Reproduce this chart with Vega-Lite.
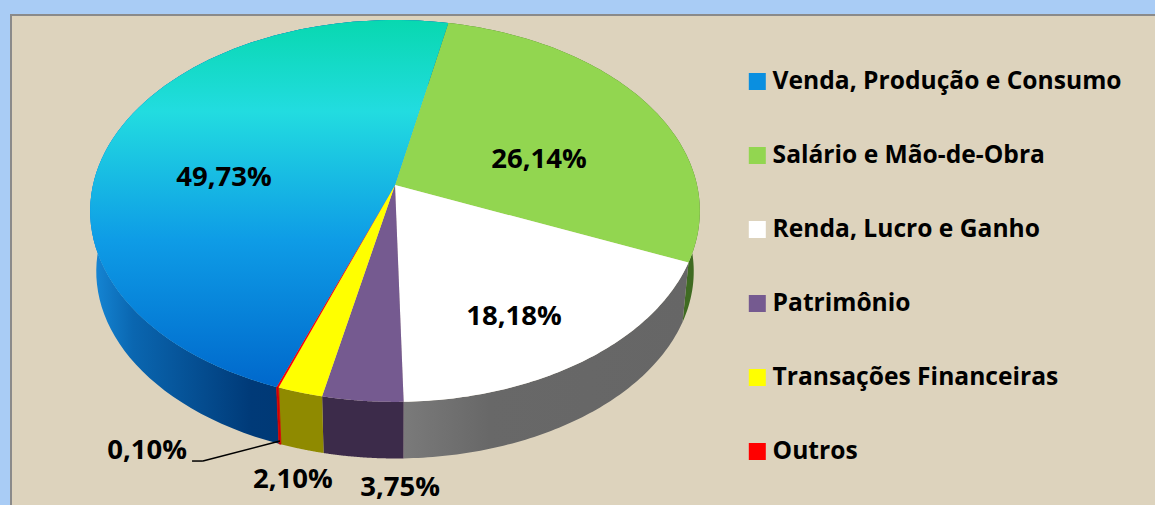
{
"$schema":"https://vega.github.io/schema/vega-lite/v6.json",
"autosize":"none","width":1150,"height":495,
"padding":{"left":11,"top":15,"right":0,"bottom":0},
"background":"#A9CCF5",
"view":{"fill":"#DDD3BD","stroke":"#8A8A8A","strokeWidth":2},
"data":{"values":[
{"categoria":"Venda, Produção e Consumo","ordem":1,"valor":49.73,"rotulo":"49,73%"},
{"categoria":"Salário e Mão-de-Obra","ordem":2,"valor":26.14,"rotulo":"26,14%"},
{"categoria":"Renda, Lucro e Ganho","ordem":3,"valor":18.18,"rotulo":"18,18%"},
{"categoria":"Patrimônio","ordem":4,"valor":3.75,"rotulo":"3,75%"},
{"categoria":"Transações Financeiras","ordem":5,"valor":2.10,"rotulo":"2,10%"},
{"categoria":"Outros","ordem":6,"valor":0.10,"rotulo":"0,10%"}
]},
"transform":[
{"window":[{"op":"sum","field":"valor","as":"acum"}],"sort":[{"field":"ordem","order":"ascending"}]},
{"calculate":"datum.acum-datum.valor","as":"acum0"}
],
"encoding":{
"x":{"field":"px","type":"quantitative","axis":null,"scale":{"domain":[-1.2715,2.5364],"nice":false,"zero":false}},
"y":{"field":"py","type":"quantitative","axis":null,"scale":{"domain":[-1.7343,0.9072],"nice":false,"zero":false}}
},
"layer":[
{"transform":[
{"calculate":"sequence(0,162)","as":"k"},{"flatten":["k"]},
{"calculate":"datum.k<=80?datum.k/80:(161-datum.k)/80","as":"t"},
{"calculate":"datum.k<=80?0:1","as":"z"},
{"calculate":"datum.acum0+datum.valor*datum.t","as":"c"},
{"calculate":"(200+3.6*datum.c-7.5*exp(-pow((datum.c-49.73)/12,2)))*PI/180","as":"th"},
{"calculate":"1+0.136*cos(datum.th)","as":"w"},
{"calculate":"(1-0.02*datum.z)*sin(datum.th)/datum.w","as":"px"},
{"calculate":"(1-0.02*datum.z)*cos(datum.th)/datum.w-0.325*datum.z","as":"py"}
],
"layer":[
{"transform":[{"filter":"datum.ordem==1"}],"mark":{"type":"line","interpolate":"linear-closed","strokeWidth":0,"fill":{"gradient":"linear","x1":0,"x2":1,"y1":0,"y2":0,"stops":[{"offset":0,"color":"#1689D8"},{"offset":0.12,"color":"#0A66B0"},{"offset":0.45,"color":"#003A78"},{"offset":1,"color":"#003468"}]}},"encoding":{"order":{"field":"k","type":"quantitative"}}},
{"transform":[{"filter":"datum.ordem==2"}],"mark":{"type":"line","interpolate":"linear-closed","strokeWidth":0,"fill":"#3F6B22"},"encoding":{"order":{"field":"k","type":"quantitative"}}},
{"transform":[{"filter":"datum.ordem==3"}],"mark":{"type":"line","interpolate":"linear-closed","strokeWidth":0,"fill":{"gradient":"linear","x1":0,"x2":1,"y1":0,"y2":0,"stops":[{"offset":0,"color":"#7A7A7A"},{"offset":0.3,"color":"#686868"},{"offset":1,"color":"#666666"}]}},"encoding":{"order":{"field":"k","type":"quantitative"}}},
{"transform":[{"filter":"datum.ordem==4"}],"mark":{"type":"line","interpolate":"linear-closed","strokeWidth":0,"fill":"#3C2B4A"},"encoding":{"order":{"field":"k","type":"quantitative"}}},
{"transform":[{"filter":"datum.ordem==5"}],"mark":{"type":"line","interpolate":"linear-closed","strokeWidth":0,"fill":"#8F8A00"},"encoding":{"order":{"field":"k","type":"quantitative"}}},
{"transform":[{"filter":"datum.ordem==6"}],"mark":{"type":"line","interpolate":"linear-closed","strokeWidth":0.8,"stroke":"#D00000","fill":"#D00000"},"encoding":{"order":{"field":"k","type":"quantitative"}}}
]},
{"transform":[
{"calculate":"sequence(-1,81)","as":"k"},{"flatten":["k"]},
{"calculate":"datum.acum0+datum.valor*max(datum.k,0)/80","as":"c"},
{"calculate":"(200+3.6*datum.c-7.5*exp(-pow((datum.c-49.73)/12,2)))*PI/180","as":"th"},
{"calculate":"1+0.136*cos(datum.th)","as":"w"},
{"calculate":"datum.k<0?0:sin(datum.th)/datum.w","as":"px"},
{"calculate":"datum.k<0?0:cos(datum.th)/datum.w","as":"py"}
],
"layer":[
{"mark":{"type":"line","interpolate":"linear-closed","filled":true,"strokeWidth":0},
"encoding":{"order":{"field":"k","type":"quantitative"},
"color":{"field":"categoria","type":"nominal","scale":{"domain":["Venda, Produção e Consumo","Salário e Mão-de-Obra","Renda, Lucro e Ganho","Patrimônio","Transações Financeiras","Outros"],"range":["#0A8FE0","#92D650","#FFFFFF","#755A90","#FFFF00","#FF0000"]},
"legend":{"title":null,"orient":"none","legendX":734,"legendY":50,"symbolType":"square","symbolSize":289,"symbolStrokeWidth":0,"labelFont":"Open Sans","labelFontWeight":"bold","labelFontSize":24.6,"labelColor":"#000000","labelLimit":500,"labelOffset":3,"rowPadding":41,"clipHeight":33,
"encoding":{"symbols":{"fill":{"signal":"datum.value==='Venda, Produção e Consumo'?{gradient:'linear',x1:0,x2:0,y1:0,y2:1,stops:[{offset:0,color:'#08DCC0'},{offset:1,color:'#0068CC'}]}:scale('color',datum.value)"}}}}}}},
{"transform":[{"filter":"datum.ordem==1"}],"mark":{"type":"line","interpolate":"linear-closed","strokeWidth":0,"fill":{"gradient":"linear","x1":0,"x2":0,"y1":0,"y2":1,"stops":[{"offset":0,"color":"#08D8B0"},{"offset":0.25,"color":"#22DCE0"},{"offset":0.6,"color":"#0E9CE6"},{"offset":1,"color":"#0068CC"}]}},"encoding":{"order":{"field":"k","type":"quantitative"}}}
]},
{"transform":[
{"calculate":"{'Venda, Produção e Consumo':-0.566,'Salário e Mão-de-Obra':0.477,'Renda, Lucro e Ganho':0.394,'Patrimônio':0.017,'Transações Financeiras':-0.338,'Outros':-0.821}[datum.categoria]","as":"px"},
{"calculate":"{'Venda, Produção e Consumo':0.037,'Salário e Mão-de-Obra':0.133,'Renda, Lucro e Ganho':-0.704,'Patrimônio':-1.617,'Transações Financeiras':-1.574,'Outros':-1.419}[datum.categoria]","as":"py"}
],
"mark":{"type":"text","font":"Open Sans","fontWeight":"bold","fontSize":27.5,"color":"#000000","align":"center","baseline":"middle"},
"encoding":{"text":{"field":"rotulo","type":"nominal"}}},
{"transform":[{"filter":"datum.ordem==6"},
{"calculate":"-0.636","as":"px"},{"calculate":"-1.473","as":"py"},{"calculate":"-0.381","as":"px2"},{"calculate":"-1.366","as":"py2"}],
"mark":{"type":"rule","color":"#000000","strokeWidth":1.5},
"encoding":{"x2":{"field":"px2"},"y2":{"field":"py2"}}},
{"transform":[{"filter":"datum.ordem==6"},
{"calculate":"-0.672","as":"px"},{"calculate":"-1.473","as":"py"},{"calculate":"-0.636","as":"px2"},{"calculate":"-1.473","as":"py2"}],
"mark":{"type":"rule","color":"#000000","strokeWidth":1.5},
"encoding":{"x2":{"field":"px2"},"y2":{"field":"py2"}}}
]
}
